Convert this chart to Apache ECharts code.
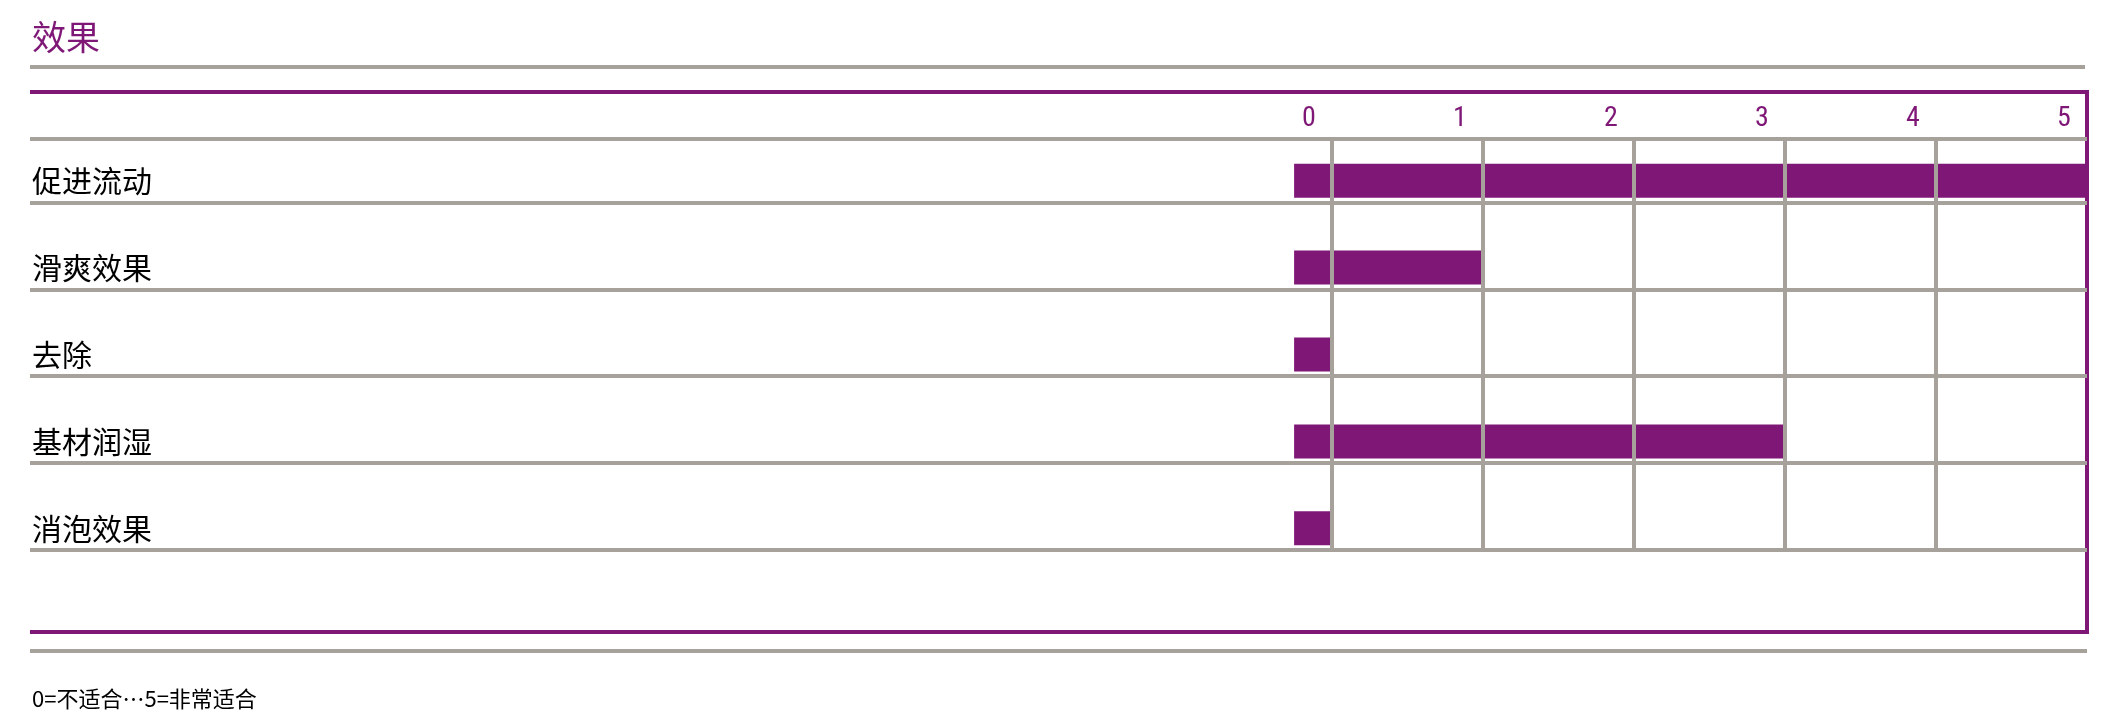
<!DOCTYPE html>
<html>
<head>
<meta charset="utf-8">
<script src="https://cdn.jsdelivr.net/npm/echarts@6/dist/echarts.min.js"></script>
<style>html,body{margin:0;padding:0;background:#fff}#main{width:2113px;height:726px}</style>
</head>
<body>
<div id="main"></div>
<script>
// 数据
var categories = ['促进流动', '滑爽效果', '去除', '基材润湿', '消泡效果'];
var values = [5, 1, 0, 3, 0];
var tickValues = [0, 1, 2, 3, 4, 5];
var gridValues = [0, 1, 2, 3, 4];
var rowLines = [-0.48, 0.25, 1.25, 2.25, 3.25, 4.25];

var purple = '#7f1777';
var gray = '#a6a19b';
var font = '"Noto Sans CJK SC", sans-serif';
var xMin = -8.62, barStart = -0.25;

var myChart = echarts.init(document.getElementById('main'));
var option = {
    animation: false,
    grid: {left: 30, right: 26, top: 139, bottom: 176},
    xAxis: {
        type: 'value', position: 'top', min: xMin, max: 5,
        axisLine: {show: false}, axisTick: {show: false}, splitLine: {show: false},
        axisLabel: {
            customValues: tickValues, margin: 6, color: purple, fontSize: 28,
            fontFamily: 'Roboto Condensed, Liberation Sans Narrow, sans-serif',
            padding: [0, 46, 0, 0]
        }
    },
    yAxis: {
        type: 'value', inverse: true, min: -0.48, max: 4.25,
        axisLine: {show: false}, axisTick: {show: false}, axisLabel: {show: false}, splitLine: {show: false}
    },
    series: [{
        type: 'custom',
        data: values.map(function (v, i) { return [v, i]; }),
        renderItem: function (params, api) {
            var i = api.value(1);
            var p0 = api.coord([barStart, i]);
            var p1 = api.coord([api.value(0), i]);
            var h = 34;
            return {
                type: 'group',
                children: [{
                    type: 'rect',
                    shape: {x: p0[0], y: p0[1] - h / 2, width: p1[0] - p0[0], height: h},
                    style: {fill: purple}
                }, {
                    type: 'text',
                    x: api.coord([xMin, i])[0] + 2, y: p0[1],
                    style: {text: categories[i], fill: '#000', fontSize: 30, fontFamily: font, verticalAlign: 'middle'}
                }]
            };
        },
        z: 3,
        markLine: {
            silent: true, symbol: 'none', label: {show: false},
            lineStyle: {color: gray, width: 4, type: 'solid'},
            data: gridValues.map(function (v) { return {xAxis: v}; })
                .concat(rowLines.map(function (v) { return {yAxis: v}; }))
        }
    }],
    graphic: [
        {type: 'text', left: 32, top: 20, style: {text: '效果', fill: purple, fontSize: 34, fontFamily: font}},
        {type: 'line', shape: {x1: 30, y1: 67, x2: 2085, y2: 67}, style: {stroke: gray, lineWidth: 4}},
        {type: 'polyline', shape: {points: [[30, 92], [2087, 92], [2087, 632], [30, 632]]}, style: {stroke: purple, lineWidth: 4, fill: null}},
        {type: 'line', shape: {x1: 30, y1: 651, x2: 2087, y2: 651}, style: {stroke: gray, lineWidth: 4}},
        {type: 'text', left: 32, top: 688, style: {text: '0=不适合…5=非常适合', fill: '#000', fontSize: 22, fontFamily: font}}
    ]
};
myChart.setOption(option);
</script>
</body>
</html>
